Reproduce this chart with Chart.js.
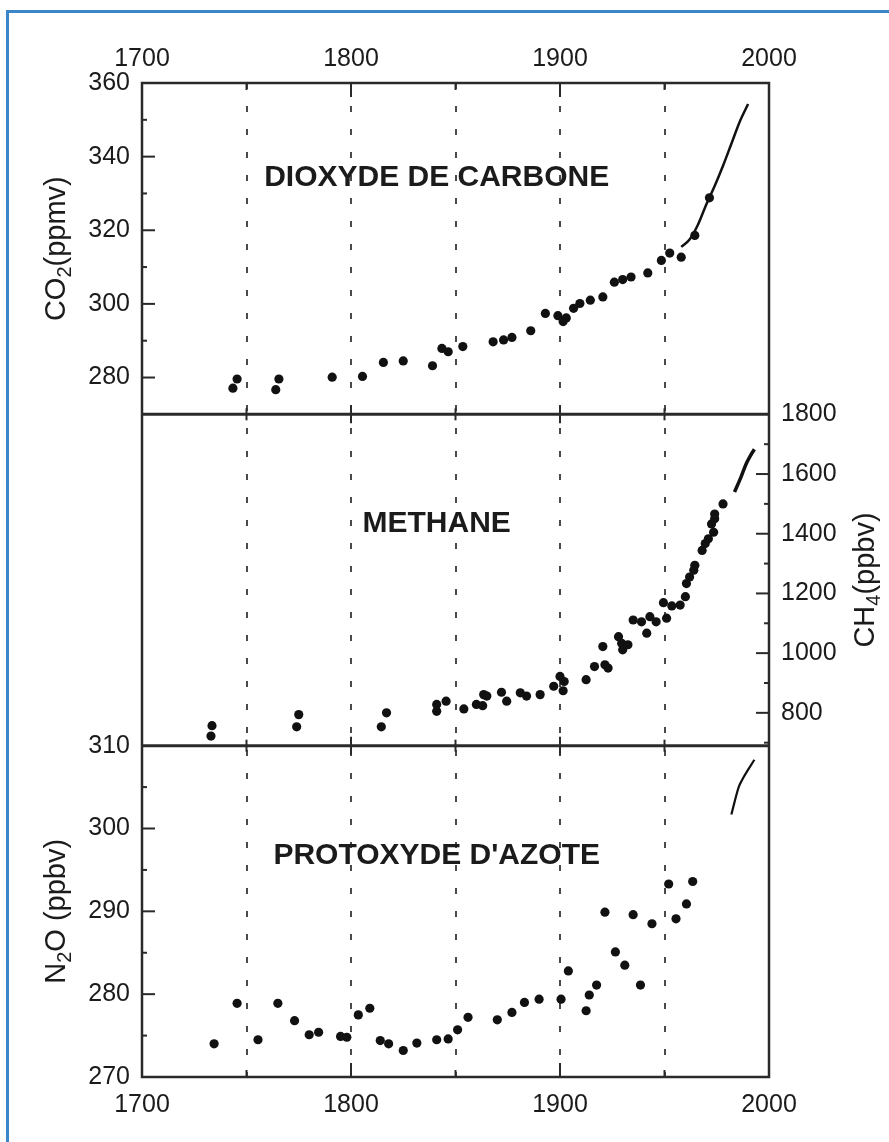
<!DOCTYPE html>
<html>
<head>
<meta charset="utf-8">
<title>CO2, CH4, N2O 1700-2000</title>
<script src="https://cdn.jsdelivr.net/npm/chart.js@4.4.1/dist/chart.umd.min.js"></script>
<style>
  html, body { margin: 0; padding: 0; background: #fff; overflow: hidden; }
  #wrap { position: relative; width: 889px; height: 1142px; overflow: hidden; }
  #frame { position: absolute; left: 6px; top: 10px; width: 920px; height: 1180px; border: 3px solid #3a86c8; box-sizing: border-box; }
  canvas { position: absolute; left: 0; top: 0; }
</style>
</head>
<body>
<div id="wrap">
  <div id="frame"></div>
  <canvas id="gasChart" width="889" height="1142"></canvas>
</div>
<script>
"use strict";
// ========== DATA ========== //
const yearLabels = [1700, 1800, 1900, 2000];

// CO2 - ice core samples (dots) + atmospheric record (line)
const co2Years = [1743.5, 1745.5, 1764, 1765.5, 1791, 1805.5, 1815.5, 1825, 1839, 1843.5, 1846.5, 1853.5,
  1868, 1873, 1877, 1886, 1893, 1899, 1901.5, 1903, 1906.5, 1909.5, 1914.5, 1920.5, 1926, 1930, 1934,
  1942, 1948.5, 1952.5, 1958, 1964.5, 1971.5];
const co2Values = [277.1, 279.6, 276.7, 279.6, 280.1, 280.3, 284.1, 284.5, 283.2, 287.9, 287.0, 288.4,
  289.7, 290.2, 290.9, 292.7, 297.4, 296.8, 295.2, 296.2, 298.8, 300.1, 301.0, 301.9, 305.9, 306.6, 307.3,
  308.4, 311.8, 313.8, 312.7, 318.6, 328.8];
const co2LineYears = [1958, 1962, 1966, 1970, 1974, 1978, 1982, 1986, 1990];
const co2LineValues = [315.5, 317.5, 321.5, 327, 332, 337.5, 343.5, 349.5, 354.3];
const co2Labels = [280, 300, 320, 340, 360];

// CH4
const ch4Years = [1733, 1733.5, 1774, 1775, 1814.5, 1817, 1841, 1841, 1845.5, 1854, 1860, 1863, 1863.5,
  1865, 1872, 1874.5, 1881, 1884, 1890.5, 1897, 1900, 1901.5, 1902, 1912.5, 1916.5, 1920.5, 1921.5, 1923,
  1928, 1929.5, 1930, 1932.5, 1935, 1939, 1941.5, 1943, 1946, 1949.5, 1951, 1953.5, 1957.5, 1960, 1960.5,
  1962, 1964, 1964.5, 1968, 1969.5, 1971, 1972.5, 1973.5, 1974, 1974, 1978];
const ch4Values = [722, 757, 753, 794, 753, 800, 805, 828, 839, 813, 828, 824, 861,
  856, 869, 839, 867, 856, 861, 889, 922, 874, 905, 911, 955, 1022, 961, 950,
  1055, 1033, 1011, 1028, 1111, 1105, 1067, 1122, 1105, 1169, 1117, 1158, 1161, 1189, 1233,
  1255, 1278, 1294, 1344, 1367, 1383, 1433, 1405, 1450, 1466, 1500];
const ch4LineYears = [1983.5, 1986.5, 1989, 1991, 1993];
const ch4LineValues = [1540, 1588, 1633, 1660, 1683];
const ch4Labels = [800, 1000, 1200, 1400, 1600, 1800];

// N2O
const n2oYears = [1734.5, 1745.5, 1755.5, 1765, 1773, 1780, 1784.5, 1795, 1798, 1803.5, 1809, 1814, 1818,
  1825, 1831.5, 1841, 1846.5, 1851, 1856, 1870, 1877, 1883, 1890, 1900.5, 1904, 1912.5, 1914, 1917.5,
  1921.5, 1926.5, 1931, 1935, 1938.5, 1944, 1952, 1955.5, 1960.5, 1963.5];
const n2oValues = [274.0, 278.9, 274.5, 278.9, 276.8, 275.1, 275.4, 274.9, 274.8, 277.5, 278.3, 274.4, 274.0,
  273.2, 274.1, 274.5, 274.6, 275.7, 277.2, 276.9, 277.8, 279.0, 279.4, 279.4, 282.8, 278.0, 279.9, 281.1,
  289.9, 285.1, 283.5, 289.6, 281.1, 288.5, 293.3, 289.1, 290.9, 293.6];
const n2oLineYears = [1982, 1985.5, 1987, 1993];
const n2oLineValues = [301.7, 305.0, 305.8, 308.3];
const n2oLabels = [270, 280, 290, 300, 310];

const panelTitles = ['DIOXYDE DE CARBONE', 'METHANE', "PROTOXYDE D'AZOTE"];

// ========== STYLE ========== //
const FONT = '"Liberation Sans", Arial, Helvetica, sans-serif';
const INK = '#1b1b1b';
const TITLE_FONT = '29px ' + FONT;
const SUB_FONT = '20px ' + FONT;
const PANEL_FONT = 'bold 30px ' + FONT;
// where the panel names sit (data coordinates)
const panelAnchor = { year: 1841, co2: 334.3, ch4: 1433, n2o: 296.7 };

const toPoints = (xs, ys) => xs.map((x, i) => ({ x: x, y: ys[i] }));

function dots(xs, ys, axis) {
  return {
    type: 'scatter', data: toPoints(xs, ys), yAxisID: axis,
    pointRadius: 4.6, pointHoverRadius: 4.6, backgroundColor: '#111', borderWidth: 0
  };
}
function curve(xs, ys, axis, width) {
  return {
    type: 'line', data: toPoints(xs, ys), yAxisID: axis,
    borderColor: '#111', borderWidth: width, pointRadius: 0, fill: false,
    cubicInterpolationMode: 'monotone'
  };
}

// y axis helper - labels only, tick marks are drawn by the plugin
function yScale(position, stack, weight, min, max, labels, width) {
  return {
    type: 'linear', position: position, stack: stack, stackWeight: 1, weight: weight,
    min: min, max: max,
    ticks: {
      display: labels !== null, autoSkip: false, padding: 12,
      font: { family: FONT, size: 25 }, color: INK,
      callback: v => String(v)
    },
    afterBuildTicks: s => { if (labels) s.ticks = labels.map(v => ({ value: v })); },
    grid: { display: false, drawTicks: false },
    border: { display: false },
    afterFit: s => { s.width = width; }
  };
}

// ========== DRAWING PLUGIN ========== //
function drawVerticalTitle(ctx, parts, cx, cy) {
  ctx.save();
  ctx.translate(cx, cy);
  ctx.rotate(-Math.PI / 2);
  ctx.fillStyle = INK;
  ctx.textBaseline = 'middle';
  ctx.textAlign = 'left';
  const widths = parts.map(p => { ctx.font = p.sub ? SUB_FONT : TITLE_FONT; return ctx.measureText(p.text).width; });
  let pos = -widths.reduce((a, b) => a + b, 0) / 2;
  parts.forEach((p, i) => {
    ctx.font = p.sub ? SUB_FONT : TITLE_FONT;
    ctx.fillText(p.text, pos, p.sub ? 8 : 0);
    pos += widths[i];
  });
  ctx.restore();
}

const decorPlugin = {
  id: 'decor',
  afterDatasetsDraw(chart) {
    const { ctx, chartArea: area, scales } = chart;
    const { x, co2, ch4, n2o } = scales;
    const line = (x1, y1, x2, y2) => { ctx.beginPath(); ctx.moveTo(x1, y1); ctx.lineTo(x2, y2); ctx.stroke(); };
    ctx.save();
    ctx.strokeStyle = '#2a2a2a';

    // outer frame + panel dividers
    ctx.lineWidth = 2.5;
    ctx.strokeRect(area.left, area.top, area.right - area.left, area.bottom - area.top);
    ctx.lineWidth = 3;
    const dividers = [co2.bottom, ch4.bottom];
    dividers.forEach(y => line(area.left, y, area.right, y));

    // year tick marks: top, bottom and across the dividers
    ctx.lineWidth = 2;
    for (let yr = x.min + 50; yr < x.max; yr += 50) {
      const px = x.getPixelForValue(yr);
      const major = yr % 100 === 0;
      const len = major ? 14 : 7;
      line(px, area.top, px, area.top + len);
      line(px, area.bottom, px, area.bottom - len);
      dividers.forEach(y => line(px, y - (major ? 9 : 6), px, y + (major ? 9 : 6)));
    }

    // value tick marks, pointing inward
    const yTicks = (scale, minor, major, side) => {
      for (let v = Math.ceil(scale.min / minor) * minor; v <= scale.max; v += minor) {
        const py = scale.getPixelForValue(v);
        if (py <= scale.top + 1 || py >= scale.bottom - 1) continue;
        const len = v % major === 0 ? 13 : 5;
        if (side === 'left') line(area.left, py, area.left + len, py);
        else line(area.right - len, py, area.right, py);
      }
    };
    yTicks(co2, 10, 20, 'left');
    yTicks(n2o, 5, 10, 'left');
    yTicks(ch4, 100, 200, 'right');

    // panel names
    ctx.fillStyle = INK;
    ctx.font = PANEL_FONT;
    ctx.textAlign = 'center';
    ctx.textBaseline = 'middle';
    const lx = x.getPixelForValue(panelAnchor.year);
    ctx.fillText(panelTitles[0], lx, co2.getPixelForValue(panelAnchor.co2));
    ctx.fillText(panelTitles[1], lx, ch4.getPixelForValue(panelAnchor.ch4));
    ctx.fillText(panelTitles[2], lx, n2o.getPixelForValue(panelAnchor.n2o));

    // axis titles
    drawVerticalTitle(ctx, [{ text: 'CO' }, { text: '2', sub: true }, { text: '(ppmv)' }],
      area.left - 85, (co2.top + co2.bottom) / 2);
    drawVerticalTitle(ctx, [{ text: 'N' }, { text: '2', sub: true }, { text: 'O (ppbv)' }],
      area.left - 85, (n2o.top + n2o.bottom) / 2);
    drawVerticalTitle(ctx, [{ text: 'CH' }, { text: '4', sub: true }, { text: '(ppbv)' }],
      area.right + 97, (ch4.top + ch4.bottom) / 2);
    ctx.restore();
  }
};

// ========== CHART ========== //
const yearTickOpts = (pad) => ({
  stepSize: 50, autoSkip: false, maxRotation: 0, padding: pad,
  font: { family: FONT, size: 25 }, color: INK,
  callback: v => yearLabels.includes(v) ? String(v) : ''
});

const chart = new Chart(document.getElementById('gasChart'), {
  type: 'scatter',
  data: {
    datasets: [
      dots(co2Years, co2Values, 'co2'),
      curve(co2LineYears, co2LineValues, 'co2', 2.5),
      dots(ch4Years, ch4Values, 'ch4'),
      curve(ch4LineYears, ch4LineValues, 'ch4', 3.5),
      dots(n2oYears, n2oValues, 'n2o'),
      curve(n2oLineYears, n2oLineValues, 'n2o', 2.2)
    ]
  },
  options: {
    responsive: false,
    animation: false,
    layout: { padding: 0 },
    plugins: { legend: { display: false }, tooltip: { enabled: false } },
    scales: {
      x: {
        type: 'linear', position: 'bottom', min: 1700, max: 2000,
        ticks: yearTickOpts(13),
        grid: {
          drawTicks: false, lineWidth: 2,
          color: c => (c.tick && (c.tick.value === 1700 || c.tick.value === 2000)) ? 'rgba(0,0,0,0)' : '#4a4a4a'
        },
        border: { display: false, dash: [6, 17] },
        afterFit: s => { s.height = 65; }
      },
      xTop: {
        type: 'linear', position: 'top', min: 1700, max: 2000,
        ticks: yearTickOpts(9),
        grid: { display: false, drawTicks: false },
        border: { display: false },
        afterFit: s => { s.height = 83; }
      },
      // left stack: CO2 / (empty) / N2O
      co2: yScale('left', 'L', 3, 270, 360, co2Labels, 142),
      ch4Left: yScale('left', 'L', 2, 0, 1, null, 142),
      n2o: yScale('left', 'L', 1, 270, 310, n2oLabels, 142),
      // right stack: (empty) / CH4 / (empty)
      co2Right: yScale('right', 'R', 1, 0, 1, null, 120),
      ch4: yScale('right', 'R', 2, 690, 1800, ch4Labels, 120),
      n2oRight: yScale('right', 'R', 3, 0, 1, null, 120)
    }
  },
  plugins: [decorPlugin]
});
</script>
</body>
</html>
